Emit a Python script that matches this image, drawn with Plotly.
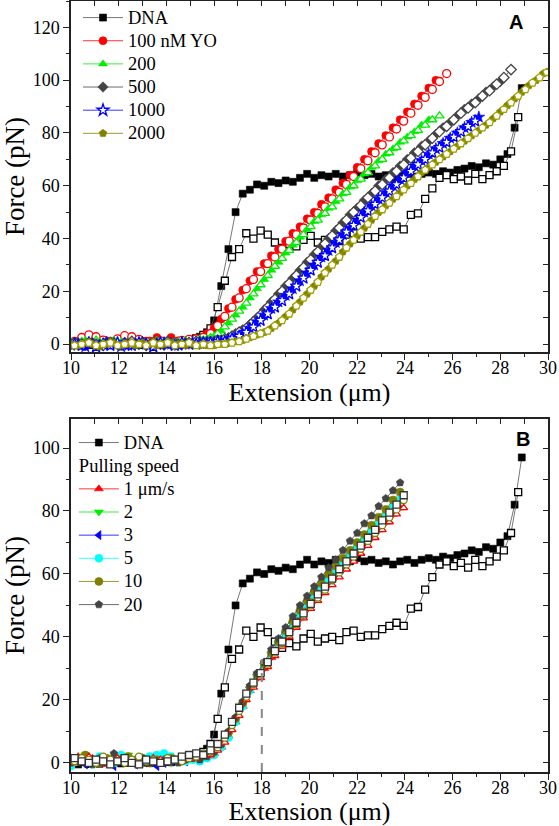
import plotly.graph_objects as go

FONT = "Liberation Serif"

# shared extension grids (µm): stretching points and relaxation points
GRID_STRETCH = [10.0, 10.3, 10.6, 10.9, 11.2, 11.5, 11.8, 12.1, 12.4, 12.7,
                13.0, 13.3, 13.6, 13.9, 14.2, 14.5, 14.8, 15.1, 15.4, 15.7,
                16.0, 16.3, 16.6, 16.9, 17.2, 17.5, 17.8, 18.1, 18.4, 18.7,
                19.0, 19.3, 19.6, 19.9, 20.2, 20.5, 20.8, 21.1, 21.4, 21.7,
                22.0, 22.3, 22.6, 22.9, 23.2, 23.5, 23.8, 24.1, 24.4, 24.7,
                25.0, 25.3, 25.6, 25.9, 26.2, 26.5, 26.8, 27.1, 27.4, 27.7,
                28.0, 28.3, 28.6, 28.9, 29.2, 29.5, 29.8]
GRID_RELAX = [10.15, 10.45, 10.75, 11.05, 11.35, 11.65, 11.95, 12.25, 12.55, 12.85,
              13.15, 13.45, 13.75, 14.05, 14.35, 14.65, 14.95, 15.25, 15.55, 15.85,
              16.15, 16.45, 16.75, 17.05, 17.35, 17.65, 17.95, 18.25, 18.55, 18.85,
              19.15, 19.45, 19.75, 20.05, 20.35, 20.65, 20.95, 21.25, 21.55, 21.85,
              22.15, 22.45, 22.75, 23.05, 23.35, 23.65, 23.95, 24.25, 24.55, 24.85,
              25.15, 25.45, 25.75, 26.05, 26.35, 26.65, 26.95, 27.25, 27.55, 27.85,
              28.15, 28.45, 28.75, 29.05, 29.35, 29.65, 29.95]

# ---------------- Panel A (force, pN) ----------------
DNA_STRETCH = [0.3, -0.5, 0.4, 0.0, -0.3, 0.5, 0.2, -0.2, 0.3, 0.0,
               0.4, -0.1, 0.3, 0.6, 0.2, 0.8, 1.2, 1.8, 2.8, 4.5,
               9, 22, 36, 50, 57, 58.5, 60.5, 60, 61.5, 61,
               62, 61.5, 63, 64.5, 63, 64, 63.5, 64.5, 63.5, 64,
               65, 64, 64.5, 63.5, 64, 63, 64, 64.5, 63.5, 64.5,
               65, 64.5, 65.5, 65, 66, 66.5, 67.5, 67, 68.5, 68,
               70, 72, 82, 97]
DNA_RELAX = [0.0, 0.4, -0.3, 0.2, 0.5, -0.2, 0.3, 0.0, 0.5, -0.3,
             0.2, 0.4, 0.0, 0.3, 0.6, 0.9, 1.5, 2.2, 3.5, 6,
             14, 24, 33, 36, 42, 40, 43, 41.5, 38.5, 36.5,
             38, 37, 39.5, 41, 38.5, 39.5, 40, 39, 41.5, 42,
             40, 40.5, 40.5, 42.5, 43.5, 44.5, 43.5, 49, 49.5, 55,
             59, 63, 64, 62.5, 63.5, 62, 64.5, 62.5, 64, 65.5,
             67.5, 73, 86]

YO100_STRETCH = [0.5, 0.8, 0.3, 1.0, 0.5, 0.2, 0.6, 0.9, 0.4, 0.7,
                 0.5, 1.2, 2.5, 1.0, 2.5, 1.3, 1.0, 1.5, 2.0, 4,
                 6, 9.5, 13.5, 17, 20.5, 24, 27.5, 30.5, 33.5, 36,
                 39, 42, 44.5, 47.5, 50, 53, 55.5, 58.5, 61, 64,
                 67, 70, 73, 76, 79, 82, 85, 88, 91, 94,
                 97, 100]
YO100_RELAX = [1.0, 2.5, 3.5, 2.8, 1.5, 1.0, 2.0, 3.2, 2.8, 1.8,
               1.0, 0.8, 1.2, 0.5, 1.0, 1.4, 1.8, 2.0, 2.6, 4,
               7, 10.5, 14, 17.5, 21, 24.5, 27.5, 30.5, 33, 36,
               39, 41.5, 44, 47, 49.5, 52, 55, 57.5, 60.5, 63.5,
               66.5, 69.5, 72.5, 75.5, 78.5, 81.5, 84.5, 87.5, 90.5, 93.5,
               96.5, 99.5, 102.5]

YO200_STRETCH = [1.0, 0.5, 1.5, 0.0, 1.0, 0.5, 1.5, 1.0, 0.5, 0.0,
                 1.0, 0.5, 1.5, 1.0, 0.5, 1.0, 1.5, 1.0, 2.0, 2,
                 3, 5, 8, 11, 14, 17.5, 21, 24.5, 28, 31,
                 34.5, 37.5, 40.5, 43.5, 46.5, 49, 51.5, 54, 57, 59.5,
                 62, 64.5, 67, 69.5, 72, 74, 76.5, 78.5, 80.5, 83,
                 85]
YO200_RELAX = [0.5, 1.0, 0.0, 1.5, 0.5, 1.0, 0.0, 0.5, 1.0, 0.0,
               0.5, 1.0, 0.5, 0.0, 1.0, 0.5, 1.0, 1.0, 1.5, 2.5,
               4, 6.5, 9.5, 12.5, 15.5, 19, 22.5, 26, 29.5, 32.5,
               35.5, 38.5, 41.5, 44.5, 47, 49.5, 52, 55, 57.5, 60,
               62.5, 65, 67.5, 70, 72.5, 74.5, 77, 79, 81, 83,
               85, 86.5]

YO500_STRETCH = [0.0, 0.5, -0.5, 0.5, 0.0, 1.0, 0.5, -0.5, 0.0, 0.5,
                 1.0, 0.0, 0.5, -0.5, 0.5, 0.0, 0.5, 0.5, 1.0, 1,
                 1, 1.5, 2.5, 4, 5.5, 7.5, 10, 13, 16, 19,
                 22, 25, 28, 31, 34, 37, 40, 43, 46, 49,
                 51.5, 54.5, 57, 60, 62.5, 65, 67.5, 70, 72.5, 75,
                 77, 79.5, 82, 84, 86.5, 89, 91, 93, 95.5, 97.5,
                 99.5]
YO500_RELAX = [0.5, 0.0, 0.5, 0.0, -0.5, 0.5, 0.0, 0.5, 1.0, 0.0,
               -0.5, 0.5, 0.0, 1.0, 0.5, 0.0, 0.5, 1.0, 0.5, 1,
               1.5, 2, 3, 4.5, 6, 8.5, 11, 14, 17, 20,
               23, 26, 29, 32, 35, 38, 41, 44, 47, 50,
               52.5, 55.5, 58, 60.5, 63, 65.5, 68, 70.5, 73, 75.5,
               78, 80.5, 82.5, 85, 87.5, 89.5, 91.5, 94, 96, 98.5,
               101, 104]

YO1000_STRETCH = [-0.5, 0.0, -1.0, 0.0, -0.5, 0.5, 0.0, -1.0, -0.5, 0.0,
                  0.5, -0.5, 0.0, 0.5, 0.0, -0.5, 0.0, 0.5, 0.5, 0.5,
                  0.5, 1, 1.5, 2.5, 4, 6, 8.5, 11, 13.5, 16,
                  18.5, 21, 24, 27, 30, 33, 35.5, 38.5, 41.5, 44,
                  47, 50, 52.5, 55, 57.5, 60, 62.5, 65, 67.5, 69.5,
                  72, 74, 76, 78, 80, 82, 84, 86]
YO1000_RELAX = [0.0, -0.5, 0.5, -1.0, 0.0, -0.5, 0.5, 0.0, -0.5, 0.5,
                0.0, -1.0, 0.5, 0.0, -0.5, 0.5, 0.0, 0.0, 0.5, 0.5,
                1, 1, 2, 3, 4.5, 6.5, 9, 11.5, 14, 16.5,
                19, 22, 25, 28, 31, 33.5, 36.5, 39.5, 42.5, 45,
                48, 50.5, 53, 55.5, 58, 60.5, 63, 65.5, 68, 70,
                72.5, 74.5, 76.5, 78.5, 80.5, 82.5, 84.5]

YO2000_STRETCH = [0.0, -0.5, 0.5, 0.0, -1.0, 0.0, 0.5, -0.5, 0.0, -0.5,
                  0.5, 0.0, -0.5, 0.0, 0.5, 0.0, -0.5, 0.0, -0.5, -0.5,
                  -0.5, 0, 0.5, 1, 1.5, 2.5, 3.5, 4.5, 6, 8,
                  10.5, 13, 16, 19, 22, 25.5, 28.5, 31.5, 35, 38,
                  41, 44, 47, 50, 52.5, 55, 57.5, 60, 62.5, 65,
                  67, 69, 71, 73, 75, 77, 79, 81, 83, 85.5,
                  88, 90.5, 93, 95.5, 98, 100, 102.5]
YO2000_RELAX = [-0.5, 0.0, 0.5, -0.5, 0.0, 0.5, -0.5, 0.0, 0.5, 0.0,
                -0.5, 0.5, 0.0, 0.5, -0.5, 0.0, 0.5, -0.5, 0.0, -0.5,
                0, 0, 0.5, 1, 2, 3, 4, 5, 7, 9,
                11.5, 14.5, 17.5, 20.5, 23.5, 27, 30, 33, 36.5, 39.5,
                42.5, 45.5, 48.5, 51, 53.5, 56, 58.5, 61, 63.5, 66,
                68, 70, 72, 74, 76, 78, 80, 82, 84, 86.5,
                89, 91.5, 94, 96.5, 99, 101, 103]

# ---------------- Panel B (pulling speed) ----------------
SPEED1_STRETCH = [1.0, 2.0, 0.5, 1.5, 0.0, -0.5, 1.0, 2.0, 0.5, -0.5,
                  1.0, 0.0, 0.5, 1.5, 0.5, 1.0, 2.0, 1.5, 1.5, 2,
                  3, 5, 8.5, 13, 18, 23, 27, 30, 33.5, 37,
                  40, 43, 46, 49, 52, 54.5, 57, 59.5, 62, 64.5,
                  66.5, 69, 71.5, 74, 76.5, 79, 81]
SPEED1_RELAX = [0.0, 1.0, 2.0, 0.5, 1.0, 0.0, 1.5, 0.5, 0.0, 1.0,
                0.5, 1.5, 1.0, 0.0, 1.0, 0.5, 1.0, 1.5, 2.0, 2.5,
                4, 6.5, 10.5, 15, 20, 24, 27, 30.5, 34, 37,
                40, 43, 46, 49, 51.5, 54, 56.5, 59, 61.5, 64,
                66.5, 69, 71.5, 74, 76.5, 79, 81]
SPEED2_STRETCH = [0.5, 1.5, 2.5, 1.0, 0.5, 1.5, 0.0, 1.0, 2.5, 1.0,
                  0.0, 1.5, 0.5, 1.0, 0.0, 1.5, 1.0, 2.0, 1.0, 1.5,
                  3, 5.5, 9, 13.5, 18.5, 23.5, 27.5, 31, 34.5, 38,
                  41, 44, 47, 50, 53, 55.5, 58, 60.5, 63, 65.5,
                  68, 70.5, 73, 75.5, 78, 80.5, 83]
SPEED3_STRETCH = [0.0, 1.0, -0.5, 0.5, 1.5, 0.0, -1.0, 0.5, 1.0, -0.5,
                  0.5, 1.0, -1.0, 0.0, 0.5, 1.0, 0.5, 1.5, 1.0, 2,
                  3.5, 5.5, 9, 14, 19, 24, 28, 31.5, 35, 38.5,
                  41.5, 44.5, 47.5, 50.5, 53.5, 56, 58.5, 61, 63.5, 66,
                  68.5, 71, 73.5, 76, 78.5, 81.5, 84]
SPEED5_STRETCH = [-1.0, 0.5, 1.0, -0.5, 2.0, 1.0, 0.0, 2.5, 1.0, 0.0,
                  1.5, 2.0, 2.5, 3.0, 2.0, 1.0, 0.5, 1.0, 0.5, 1.5,
                  2.5, 5, 8, 13, 18, 23, 27.5, 31, 34.5, 38,
                  41, 44.5, 47.5, 50.5, 53.5, 56, 58.5, 61.5, 64, 66.5,
                  69, 71.5, 74, 76.5, 79, 81.5, 83.5]
SPEED10_STRETCH = [1.5, 0.5, 2.5, 1.0, 0.0, 1.5, 0.5, 1.0, 2.0, 0.5,
                   1.5, 0.0, 1.0, 0.5, 1.5, 0.5, 1.5, 2.0, 1.5, 2.5,
                   3.5, 6, 9.5, 14, 19, 24, 28, 31.5, 35, 38.5,
                   42, 45, 48.5, 51.5, 54.5, 57, 60, 62.5, 65, 67.5,
                   70, 72.5, 75.5, 78, 80.5, 83.5, 86]
SPEED10_RELAX = [0.5, 1.5, 1.0, 0.0, 2.0, 1.0, 0.5, 0.0, 1.0, 2.0,
                 0.5, 1.0, 0.0, 1.5, 1.0, 0.5, 1.5, 2.0, 3.0, 3.5,
                 5, 8, 12, 16.5, 21, 25, 28, 31.5, 35, 38,
                 41, 44, 47, 50, 52.5, 55, 58, 60.5, 63, 65.5,
                 68, 70.5, 73, 75.5, 78, 80.5, 83.5]
SPEED20_STRETCH = [0.0, 1.0, 0.5, -0.5, 1.5, 0.5, 3.0, 1.0, 0.0, 1.0,
                   1.5, 0.0, 0.5, 1.0, 0.5, 0.0, 1.0, 1.5, 1.0, 2,
                   3.5, 6, 10, 14.5, 19.5, 24.5, 28.5, 32, 36, 39.5,
                   43, 46.5, 50, 53, 56, 59, 62, 64.5, 67.5, 70.5,
                   73, 76, 78.5, 81.5, 84, 86.5, 89]
SPEED20_RELAX = [1.5, 0.5, 0.0, 1.0, 0.5, -0.5, 0.5, 1.5, 0.0, -0.5,
                 1.0, 0.5, 0.0, 0.5, 1.0, 2.0, 2.5, 3.0, 2.5, 4,
                 6, 9, 13, 17.5, 22, 25.5, 28.5, 32, 35.5, 38.5,
                 41.5, 44.5, 47.5, 50.5, 53.5, 56, 58.5, 61.5, 64, 66.5,
                 69, 71.5, 74, 77, 79.5, 82, 85]

DASH_X = 18
DASH_TOP = 33

X_RANGE = [10, 30]
YA_RANGE = [-3, 130]
YB_RANGE = [-2.9, 109.2]

AXIS_COLOR = "#222222"
LEGEND_SIZE = 15.5      # sets the row spacing of the legends
LEGEND_TEXT_PX = 18.5   # visible size of the legend texts


def legend_text(s):
    return "<span style='font-size:%spx'>%s</span>" % (LEGEND_TEXT_PX, s)


fig = go.Figure()


def add(xgrid, ys, name, symbol, color, filled, xa, ya, legend, showlegend,
        rank=1000, size=7, line_color=None, group=None, grouptitle=None):
    n = len(ys)
    marker = dict(symbol=symbol, size=size,
                  color=color if filled else "white",
                  line=dict(color=color, width=0.6 if filled else 1.3))
    kw = dict(x=xgrid[:n], y=ys, mode="lines+markers", name=legend_text(name),
              marker=marker,
              line=dict(color=line_color or color, width=0.8),
              xaxis=xa, yaxis=ya, legend=legend, showlegend=showlegend,
              legendrank=rank, hoverinfo="skip")
    if group:
        kw["legendgroup"] = group
    if grouptitle:
        kw["legendgrouptitle"] = dict(text=legend_text(grouptitle),
                                      font=dict(size=LEGEND_SIZE))
    fig.add_trace(go.Scatter(**kw))


# ---- panel A traces ----
add(GRID_STRETCH, DNA_STRETCH, "DNA", "square", "#000000", True, "x", "y", "legend", True, 1, 7, "#555555")
add(GRID_RELAX, DNA_RELAX, "DNA relax", "square", "#000000", False, "x", "y", "legend", False, 1, 7, "#555555")
add(GRID_STRETCH, YO100_STRETCH, "100 nM YO", "circle", "#ff0000", True, "x", "y", "legend", True, 2, 8)
add(GRID_RELAX, YO100_RELAX, "100 relax", "circle", "#ff0000", False, "x", "y", "legend", False, 2, 8)
add(GRID_STRETCH, YO200_STRETCH, "200", "triangle-up", "#00ee00", True, "x", "y", "legend", True, 3, 8)
add(GRID_RELAX, YO200_RELAX, "200 relax", "triangle-up", "#00ee00", False, "x", "y", "legend", False, 3, 8)
add(GRID_STRETCH, YO500_STRETCH, "500", "diamond", "#444444", True, "x", "y", "legend", True, 4, 8)
add(GRID_RELAX, YO500_RELAX, "500 relax", "diamond", "#444444", False, "x", "y", "legend", False, 4, 8)
add(GRID_STRETCH, YO1000_STRETCH, "1000 stretch", "star", "#0000ff", True, "x", "y", "legend", False, 5, 9)
add(GRID_RELAX, YO1000_RELAX, "1000", "star", "#0000ff", False, "x", "y", "legend", True, 5, 9)
add(GRID_STRETCH, YO2000_STRETCH, "2000", "pentagon", "#808000", True, "x", "y", "legend", True, 6, 8)
add(GRID_RELAX, YO2000_RELAX, "2000 relax", "pentagon", "#a0a000", False, "x", "y", "legend", False, 6, 8)

# ---- panel B traces ----
add(GRID_STRETCH, DNA_STRETCH, "DNA", "square", "#000000", True, "x2", "y2", "legend2", True, 1, 7, "#555555", group="dna")
add(GRID_RELAX, DNA_RELAX, "DNA relax", "square", "#000000", False, "x2", "y2", "legend2", False, 1, 7, "#555555", group="dna")
add(GRID_STRETCH, SPEED1_STRETCH, "1 μm/s", "triangle-up", "#ff0000", True, "x2", "y2", "legend2", True, 2, 8, group="speed", grouptitle="Pulling speed")
add(GRID_STRETCH, SPEED2_STRETCH, "2", "triangle-down", "#00ee00", True, "x2", "y2", "legend2", True, 3, 8, group="speed")
add(GRID_STRETCH, SPEED3_STRETCH, "3", "triangle-left", "#0000ff", True, "x2", "y2", "legend2", True, 4, 8, group="speed")
add(GRID_STRETCH, SPEED5_STRETCH, "5", "circle", "#00ffff", True, "x2", "y2", "legend2", True, 5, 8, group="speed")
add(GRID_STRETCH, SPEED10_STRETCH, "10", "circle", "#808000", True, "x2", "y2", "legend2", True, 6, 8, group="speed")
add(GRID_STRETCH, SPEED20_STRETCH, "20", "pentagon", "#444444", True, "x2", "y2", "legend2", True, 7, 8, group="speed")
add(GRID_RELAX, SPEED1_RELAX, "1 relax", "triangle-up", "#ff0000", False, "x2", "y2", "legend2", False, 8, 7, group="speed")
add(GRID_RELAX, SPEED10_RELAX, "10 relax", "circle", "#808000", False, "x2", "y2", "legend2", False, 8, 7, group="speed")
add(GRID_RELAX, SPEED20_RELAX, "20 relax", "square", "#333333", False, "x2", "y2", "legend2", False, 8, 7, group="speed")

# dummy traces so the mirrored (top/right) tick axes are drawn
for xa, ya in [("x3", "y"), ("x", "y3"), ("x4", "y2"), ("x2", "y4")]:
    fig.add_trace(go.Scatter(x=[None], y=[None], xaxis=xa, yaxis=ya,
                             showlegend=False, hoverinfo="skip"))

title_font = dict(family=FONT, size=26, color="black")


def main_x(anchor, title):
    return dict(domain=[0, 1], anchor=anchor, range=X_RANGE, tick0=10, dtick=2,
                ticks="outside", ticklen=6, tickwidth=1.2, tickcolor=AXIS_COLOR,
                minor=dict(dtick=1, ticks="outside", ticklen=3, tickcolor=AXIS_COLOR, tickwidth=1.2),
                showline=True, linecolor=AXIS_COLOR, linewidth=1.5,
                showgrid=False, zeroline=False, automargin=False,
                ticklabelstandoff=-7,
                tickfont=dict(size=18), title=dict(text=title, font=title_font, standoff=3))


def main_y(anchor, domain, rng, title):
    return dict(domain=domain, anchor=anchor, range=rng, tick0=0, dtick=20,
                ticks="outside", ticklen=6, tickwidth=1.2, tickcolor=AXIS_COLOR,
                minor=dict(dtick=10, ticks="outside", ticklen=3, tickcolor=AXIS_COLOR, tickwidth=1.2),
                showline=True, linecolor=AXIS_COLOR, linewidth=1.5,
                showgrid=False, zeroline=False, automargin=False,
                tickfont=dict(size=18),
                title=dict(text=title, font=dict(family=FONT, size=27, color="black"), standoff=4))


def top_x(over, anchor):
    return dict(overlaying=over, anchor=anchor, side="top", range=X_RANGE, tick0=10, dtick=1,
                ticks="inside", ticklen=5, tickwidth=1.2, tickcolor=AXIS_COLOR,
                showticklabels=False, showline=True, linecolor=AXIS_COLOR, linewidth=1.5,
                showgrid=False, zeroline=False)


def right_y(over, anchor, rng):
    return dict(overlaying=over, anchor=anchor, side="right", range=rng, tick0=0, dtick=10,
                ticks="inside", ticklen=5, tickwidth=1.2, tickcolor=AXIS_COLOR,
                showticklabels=False, showline=True, linecolor=AXIS_COLOR, linewidth=1.5,
                showgrid=False, zeroline=False)


fig.update_layout(
    width=559, height=826,
    margin=dict(l=71, r=11, t=1, b=54, autoexpand=False),
    paper_bgcolor="white", plot_bgcolor="white",
    font=dict(family=FONT, size=18, color="black"),
    xaxis=main_x("y", "Extension (μm)"),
    yaxis=main_y("x", [0.5447, 1], YA_RANGE, "Force (pN)"),
    xaxis2=main_x("y2", "Extension (μm)"),
    yaxis2=main_y("x2", [0, 0.4578], YB_RANGE, "Force (pN)"),
    xaxis3=top_x("x", "y"),
    yaxis3=right_y("y", "x", YA_RANGE),
    xaxis4=top_x("x2", "y2"),
    yaxis4=right_y("y2", "x2", YB_RANGE),
    legend=dict(x=0.0147, y=1.0, xanchor="left", yanchor="top",
                bgcolor="rgba(0,0,0,0)", font=dict(size=LEGEND_SIZE), itemwidth=40,
                tracegroupgap=0),
    legend2=dict(x=0.006, y=0.4488, xanchor="left", yanchor="top",
                 bgcolor="rgba(0,0,0,0)", font=dict(size=LEGEND_SIZE), itemwidth=40,
                 tracegroupgap=0, traceorder="grouped"),
    shapes=[dict(type="line", xref="x2", yref="y2", x0=DASH_X, x1=DASH_X,
                 y0=YB_RANGE[0], y1=DASH_TOP,
                 line=dict(color="#888888", width=2, dash="dash"))],
    annotations=[
        dict(text="<b>A</b>", xref="x", yref="y", x=28.65, y=122, showarrow=False,
             font=dict(family="Liberation Sans", size=20, color="black")),
        dict(text="<b>B</b>", xref="x2", yref="y2", x=28.95, y=103, showarrow=False,
             font=dict(family="Liberation Sans", size=20, color="black")),
    ],
)

# no mode bar; remove the browser's default 8px page margin so the figure sits at the page origin
fig.write_html("out.html", config={"displayModeBar": False},
               post_script="document.body.style.margin='0px';")
